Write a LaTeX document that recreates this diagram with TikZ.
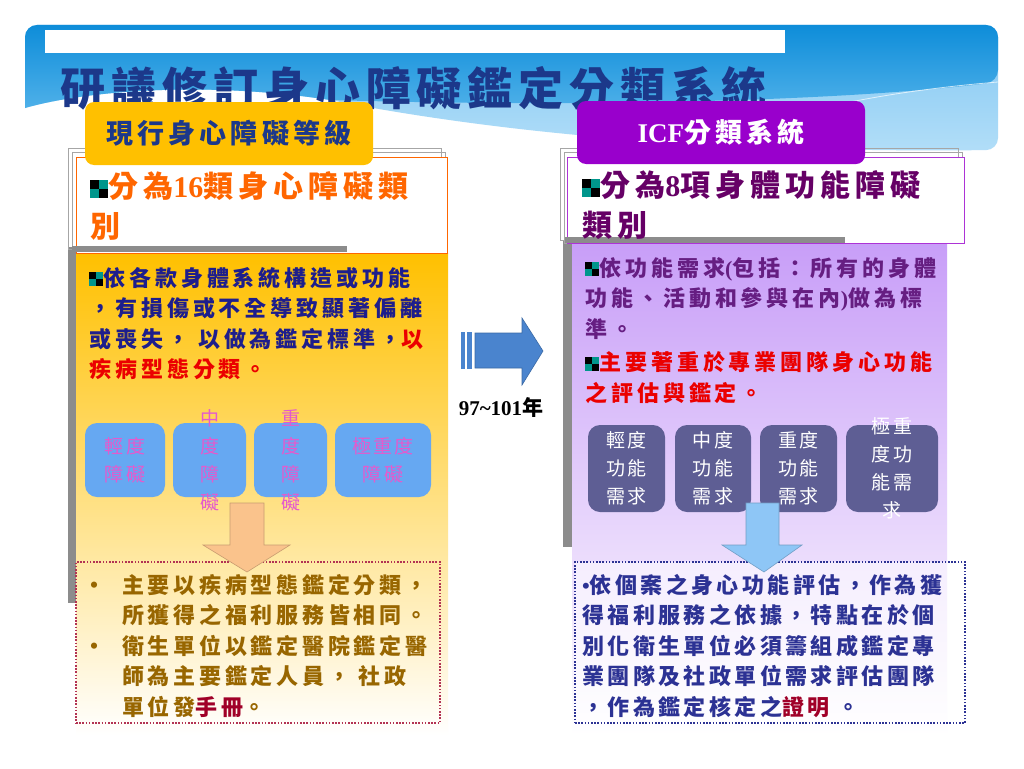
\documentclass[tikz,border=0pt]{standalone}
\usepackage{fontspec}
\setmainfont{Liberation Serif}
\newfontfamily\cjk{Noto Sans CJK TC}
\definecolor{hdtop}{RGB}{14,141,217}
\definecolor{hdmid}{RGB}{78,176,233}
\definecolor{hdlight}{RGB}{128,198,242}
\definecolor{hdpale}{RGB}{178,222,248}
\definecolor{titleblue}{RGB}{28,56,138}
\definecolor{tagyellow}{RGB}{255,192,0}
\definecolor{tagpurple}{RGB}{153,0,204}
\definecolor{lilac}{RGB}{200,158,248}
\definecolor{navytxt}{RGB}{30,30,140}
\definecolor{orangetxt}{RGB}{255,102,0}
\definecolor{plumtxt}{RGB}{102,0,102}
\definecolor{purpletxt}{RGB}{102,30,130}
\definecolor{redtxt}{RGB}{235,0,0}
\definecolor{browntxt}{RGB}{152,102,0}
\definecolor{bluetxt}{RGB}{44,50,148}
\definecolor{deepred}{RGB}{160,0,40}
\definecolor{chkteal}{RGB}{0,150,140}
\definecolor{lboxblue}{RGB}{102,168,242}
\definecolor{lboxtxt}{RGB}{228,90,205}
\definecolor{rboxslate}{RGB}{94,94,148}
\definecolor{midblue}{RGB}{74,132,206}
\definecolor{peach}{RGB}{250,195,140}
\definecolor{skyarrow}{RGB}{142,198,246}
\newcommand\chk[1]{\begingroup\setlength\unitlength{#1pt}\begin{picture}(2,2)%
\put(0,1){\color{black}\rule{#1pt}{#1pt}}\put(1,1){\color{chkteal}\rule{#1pt}{#1pt}}%
\put(0,0){\color{chkteal}\rule{#1pt}{#1pt}}\put(1,0){\color{black}\rule{#1pt}{#1pt}}%
\end{picture}\endgroup}
\begin{document}
\begin{tikzpicture}[x=1pt,y=-1pt,
    tag/.style={rounded corners=9pt,minimum width=288pt,minimum height=63pt,inner sep=0pt,
      font=\cjk\bfseries\addfontfeature{LetterSpace=15}\fontsize{27}{32}\selectfont},
    headbox/.style={fill=white,line width=0.8pt,inner sep=0pt},
    headtxt/.style={anchor=north west,inner sep=0pt,align=left,
      font=\cjk\bfseries\addfontfeature{LetterSpace=17}\fontsize{30}{40}\selectfont},
    bodytxt/.style={anchor=north west,inner sep=0pt,align=left,
      font=\cjk\bfseries\addfontfeature{LetterSpace=18}\fontsize{22}{30.5}\selectfont},
    lsq/.style={fill=lboxblue,rounded corners=12pt,minimum height=74pt,inner sep=0pt},
    rsq/.style={fill=rboxslate,rounded corners=12pt,minimum height=87pt,inner sep=0pt},
    sqtxt/.style={inner sep=0pt,align=center,
      font=\cjk\addfontfeature{LetterSpace=13}\fontsize{19}{28}\selectfont},
    dotbox/.style={line width=1.6pt,dash pattern=on 1.6pt off 1.6pt,inner sep=0pt}]
  \useasboundingbox (0,0) rectangle (1024,768);
  \fill[white] (0,0) rectangle (1024,768);
  \shade[top color=hdlight,bottom color=hdpale] (25,108) [rounded corners=12pt] -- (25,25) -- (998,25)
    -- (998,150) [sharp corners] .. controls (800,152) and (560,145) .. (330,100)
    .. controls (200,80) and (80,92) .. (25,108) -- cycle;
  \shade[top color=hdtop,bottom color=hdmid] (25,108) [rounded corners=12pt] -- (25,25) -- (998,25)
    -- (998,82) [sharp corners] .. controls (850,100) and (600,108) .. (330,100)
    .. controls (200,80) and (80,92) .. (25,108) -- cycle;
  \draw[white,opacity=0.7,line width=0.8pt] (845,103) .. controls (900,92) and (950,86) .. (998,82);
  \fill[white] (45,30) rectangle (785,53);
  \node[font=\cjk\bfseries\addfontfeature{LetterSpace=13}\fontsize{45}{50}\selectfont,text=titleblue]
    (title) at (414,88) {研議修訂身心障礙鑑定分類系統};
  \shade[top color=tagyellow,middle color=tagyellow!35,bottom color=white] (76,253) rectangle (448,735);
  \fill[black!45] (68,247) rectangle (76,603);
  \draw[black!35] (68,148) rectangle (441,249);
  \draw[black!35] (72,152) rectangle (445,251);
  \node[headbox,draw=orangetxt,minimum width=371pt,minimum height=96pt] (lhead) at (261.5,205) {};
  \fill[black!45] (72,246) rectangle (347,252);
  \shade[top color=lilac,middle color=lilac!40,bottom color=white] (572,243) rectangle (947,735);
  \fill[black!45] (563,240) rectangle (572,547);
  \draw[black!35] (560,148) rectangle (958,240);
  \draw[black!35] (564,152) rectangle (962,243);
  \node[headbox,draw=tagpurple!80,minimum width=397pt,minimum height=86pt] (rhead) at (765.5,200) {};
  \fill[black!45] (565,237) rectangle (845,243);
  \node[tag,fill=tagyellow,text=titleblue] (curtag) at (229,133.5) {現行身心障礙等級};
  \node[tag,fill=tagpurple,text=white] (icftag) at (721,132.5) {{\rmfamily ICF}分類系統};
  \node[headtxt,text=orangetxt] (lheadtxt) at (90,171) {\raisebox{-1pt}{\chk{9}}分為{\rmfamily 16}類身心障礙類\\別};
  \node[headtxt,text=plumtxt] (rheadtxt) at (582,170) {\raisebox{-1pt}{\chk{9}}分為{\rmfamily 8}項身體功能障礙\\類別};
  \node[bodytxt,text=navytxt] (lbody) at (89,267) {\chk{7}依各款身體系統構造或功能\\
    ，有損傷或不全導致顯著偏離\\
    或喪失， 以做為鑑定標準，\textcolor{redtxt}{以}\\
    \textcolor{redtxt}{疾病型態分類。}};
  \node[bodytxt,text=purpletxt] (rbody) at (585,257) {\chk{7}依功能需求{\rmfamily(}包括：所有的身體\\
    功能、活動和參與在內{\rmfamily)}做為標\\
    準。\\[3pt]
    \textcolor{redtxt}{\chk{7}主要著重於專業團隊身心功能}\\
    \textcolor{redtxt}{之評估與鑑定。}};
  \node[lsq,minimum width=80pt] (lb1) at (125,460) {};
  \node[lsq,minimum width=73pt] (lb2) at (209.5,460) {};
  \node[lsq,minimum width=73pt] (lb3) at (290.5,460) {};
  \node[lsq,minimum width=96pt] (lb4) at (383,460) {};
  \node[sqtxt,text=lboxtxt] (lt1) at (lb1) {輕度\\障礙};
  \node[sqtxt,text=lboxtxt] (lt2) at (lb2) {中\\度\\障\\礙};
  \node[sqtxt,text=lboxtxt] (lt3) at (lb3) {重\\度\\障\\礙};
  \node[sqtxt,text=lboxtxt] (lt4) at (lb4) {極重度\\障礙};
  \node[rsq,minimum width=77pt] (rb1) at (626.5,468.5) {};
  \node[rsq,minimum width=76pt] (rb2) at (713,468.5) {};
  \node[rsq,minimum width=77pt] (rb3) at (798.5,468.5) {};
  \node[rsq,minimum width=92pt] (rb4) at (892,468.5) {};
  \node[sqtxt,text=white] (rt1) at (rb1) {輕度\\功能\\需求};
  \node[sqtxt,text=white] (rt2) at (rb2) {中度\\功能\\需求};
  \node[sqtxt,text=white] (rt3) at (rb3) {重度\\功能\\需求};
  \node[sqtxt,text=white] (rt4) at (rb4) {極重\\度功\\能需\\求};
  \node[dotbox,draw=deepred!80,minimum width=364pt,minimum height=161pt] (lnote) at (258,642.5) {};
  \node[dotbox,draw=bluetxt,fill=white,fill opacity=0.5,minimum width=390pt,minimum height=161pt] (rnote) at (770,642.5) {};
  \node[bodytxt,text=browntxt,font=\cjk\bfseries\addfontfeature{LetterSpace=17}\fontsize{22}{30.5}\selectfont]
    (lnotetxt) at (83,574) {\makebox[39pt][l]{•}主要以疾病型態鑑定分類，\\
    \hspace*{39pt}所獲得之福利服務皆相同。\\
    \makebox[39pt][l]{•}衛生單位以鑑定醫院鑑定醫\\
    \hspace*{39pt}師為主要鑑定人員， 社政\\
    \hspace*{39pt}單位發\textcolor{deepred}{手冊}。};
  \node[bodytxt,text=bluetxt,font=\cjk\bfseries\addfontfeature{LetterSpace=15.5}\fontsize{22}{30.5}\selectfont]
    (rnotetxt) at (582,574) {{\rmfamily •}依個案之身心功能評估，作為獲\\
    得福利服務之依據，特點在於個\\
    別化衛生單位必須籌組成鑑定專\\
    業團隊及社政單位需求評估團隊\\
    ，作為鑑定核定之\textcolor{deepred}{證明} 。};
  \fill[peach,draw=peach!80!black,line width=0.6pt] (230,503) -- (264,503) -- (264,545) -- (290,545)
    -- (247,572) -- (203,545) -- (230,545) -- cycle;
  \fill[skyarrow,draw=skyarrow!80!black,line width=0.6pt] (746,503) -- (779,503) -- (779,545) -- (802,545)
    -- (764,572) -- (722,545) -- (746,545) -- cycle;
  \fill[midblue,draw=midblue!80!black,line width=0.6pt] (475,333) -- (522,333) -- (522,318) -- (543,351)
    -- (522,385) -- (522,368) -- (475,368) -- cycle;
  \fill[midblue] (461,332) rectangle (465,369);
  \fill[midblue] (467,332) rectangle (472,369);
  \node[font=\bfseries\fontsize{21}{24}\selectfont] (years) at (501,407) {97\textasciitilde101{\cjk 年}};
\end{tikzpicture}
\end{document}
